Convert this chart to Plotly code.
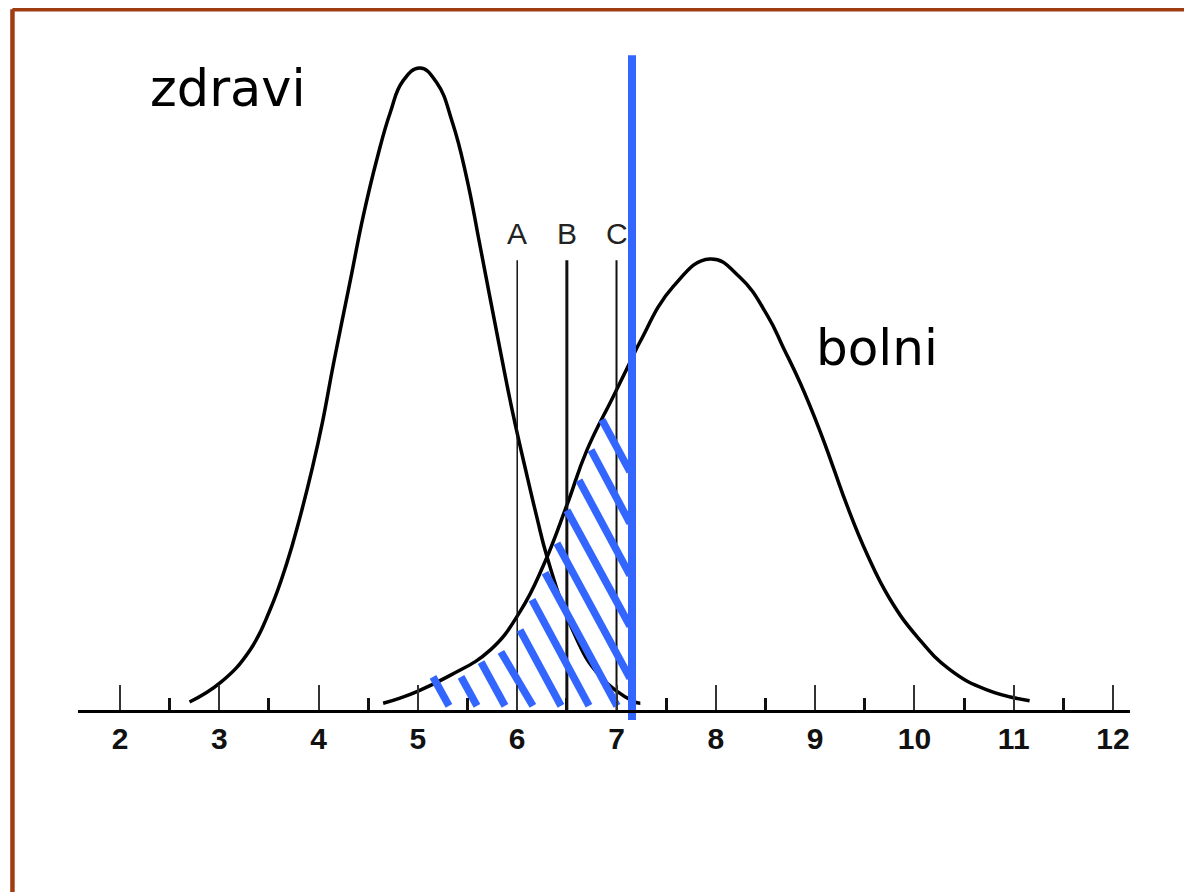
import plotly.graph_objects as go

# healthy ("zdravi") and sick ("bolni") distributions
zdravi_x = [2.70, 3.01, 3.31, 3.51, 3.68, 3.81, 3.94, 4.04, 4.15, 4.32, 4.45,
            4.59, 4.72, 4.85, 5.02, 5.19, 5.35, 5.49, 5.63, 5.83, 5.96, 6.10,
            6.20, 6.30, 6.56, 6.83, 7.17, 7.24]
zdravi_y = [1.4, 4.4, 9.5, 15.7, 23.0, 30.0, 38.0, 45.0, 54.0, 67.0, 77.0,
            86.0, 93.0, 98.0, 100.0, 97.7, 91.4, 83.0, 72.0, 56.0, 46.0, 36.5,
            30.0, 24.0, 12.5, 5.5, 1.5, 1.2]

bolni_x = [4.65, 4.82, 4.99, 5.32, 5.73, 6.03, 6.26, 6.50, 6.70, 6.97, 7.16,
           7.24, 7.57, 7.94, 8.24, 8.52, 8.68, 8.85, 9.05, 9.18, 9.32, 9.52,
           9.75, 10.03, 10.36, 10.73, 11.16]
bolni_y = [1.2, 2.0, 3.0, 5.5, 9.5, 15.5, 22.5, 32.0, 40.5, 49.0, 55.0,
           57.5, 66.0, 70.3, 67.5, 61.5, 56.5, 51.0, 43.5, 38.0, 32.0, 24.5,
           17.5, 11.5, 6.4, 3.3, 1.6]

# cut-off points A, B, C and the chosen threshold
cut_labels = ['A', 'B', 'C']
cut_x = [6.0, 6.5, 7.0]
cut_top = 70.1
cut_widths = [1.5, 3, 2]
threshold_x = 7.156
threshold_y = [-1.4, 102.0]

# hatch strokes (start -> end)
hatch_x0 = [5.152, 5.434, 5.636, 5.836, 6.028, 6.149, 6.280, 6.400, 6.501, 6.622, 6.743, 6.853]
hatch_y0 = [5.3, 5.3, 7.6, 9.2, 12.6, 17.3, 21.5, 26.1, 31.2, 35.9, 40.6, 45.3]
hatch_x1 = [5.313, 5.595, 5.877, 6.158, 6.441, 6.723, 7.005, 7.136, 7.136, 7.136, 7.136, 7.136]
hatch_y1 = [0.8, 0.8, 0.8, 0.8, 0.8, 0.8, 0.8, 5.1, 13.2, 21.1, 29.2, 37.2]

ticks_major = [2, 3, 4, 5, 6, 7, 8, 9, 10, 11, 12]
ticks_minor = [2.5, 3.5, 4.5, 5.5, 6.5, 7.5, 8.5, 9.5, 10.5, 11.5]

BLUE = '#3366FF'

fig = go.Figure()

for x, y in [(zdravi_x, zdravi_y), (bolni_x, bolni_y)]:
    fig.add_trace(go.Scatter(x=x, y=y, mode='lines',
                             line=dict(color='black', width=3.5, shape='spline', smoothing=1.3),
                             hoverinfo='skip', showlegend=False))

for x, w in zip(cut_x, cut_widths):
    fig.add_trace(go.Scatter(x=[x, x], y=[0, cut_top], mode='lines',
                             line=dict(color='#111', width=w),
                             hoverinfo='skip', showlegend=False))

hx, hy = [], []
for a, b, c, d in zip(hatch_x0, hatch_y0, hatch_x1, hatch_y1):
    hx += [a, c, None]
    hy += [b, d, None]
fig.add_trace(go.Scatter(x=hx, y=hy, mode='lines',
                         line=dict(color=BLUE, width=7.5),
                         hoverinfo='skip', showlegend=False))

fig.add_trace(go.Scatter(x=[threshold_x, threshold_x], y=threshold_y, mode='lines',
                         line=dict(color=BLUE, width=8),
                         hoverinfo='skip', showlegend=False))

for lab, x in zip(cut_labels, cut_x):
    fig.add_annotation(x=x, y=74.2, text=lab, showarrow=False,
                       font=dict(family='Liberation Sans', size=30, color='#222'))

fig.add_annotation(x=3.083, y=96.8, text='zdravi', showarrow=False,
                   font=dict(family='DejaVu Sans', size=51, color='black'))
fig.add_annotation(x=9.623, y=56.5, text='bolni', showarrow=False,
                   font=dict(family='DejaVu Sans', size=50, color='black'))

# brown frame (only top and left edges are visible)
border = dict(color='#9F3D12', width=4.5)
fig.add_shape(type='line', xref='paper', yref='paper',
              x0=-0.0623, y0=-0.01, x1=-0.0623, y1=0.9985, line=border)
fig.add_shape(type='line', xref='paper', yref='paper',
              x0=-0.0623, y0=0.9985, x1=1.07, y1=0.9985, line=border)

# the page adds an 8 px body margin, so the figure is 8 px smaller
fig.update_layout(
    width=1184,
    height=884,
    margin=dict(l=70, r=62, t=0, b=0, pad=0),
    paper_bgcolor='white',
    plot_bgcolor='white',
    showlegend=False,
)
fig.update_xaxes(
    range=[1.577, 12.171],
    anchor='free',
    position=0.20475,
    showgrid=False,
    zeroline=False,
    showline=True,
    linecolor='black',
    linewidth=3,
    ticks='inside',
    ticklen=25,
    tickwidth=2,
    tickcolor='#333',
    tickvals=ticks_major,
    ticktext=[str(t) for t in ticks_major],
    tickfont=dict(family='Liberation Sans', size=30, color='#111', weight='bold'),
    minor=dict(tickvals=ticks_minor, ticks='inside', ticklen=12, tickwidth=3,
               tickcolor='#111', showgrid=False),
)
fig.update_yaxes(range=[-28.15, 109.33], visible=False)

fig.write_html("out.html")
